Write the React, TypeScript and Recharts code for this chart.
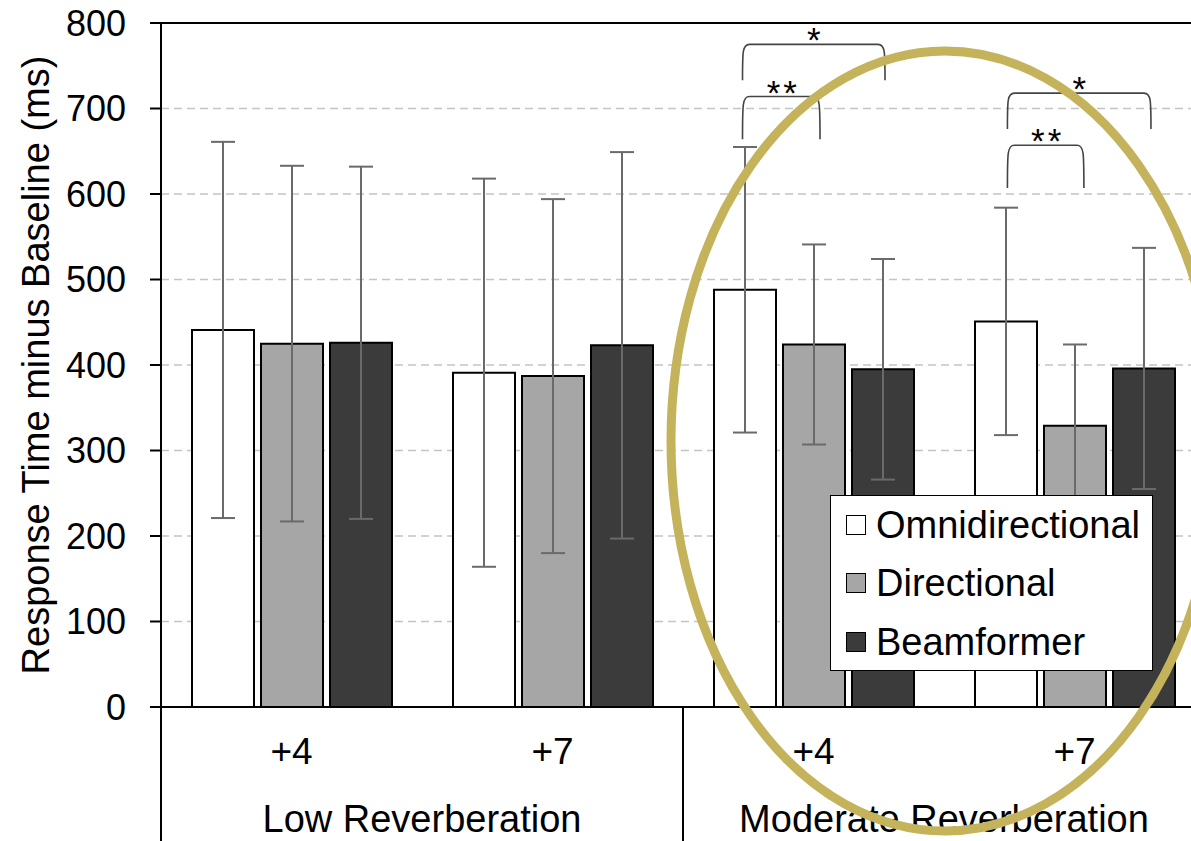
import React from 'react';
import {
  BarChart,
  Bar,
  XAxis,
  YAxis,
  CartesianGrid,
  ErrorBar,
  ReferenceLine,
  Legend,
} from 'recharts';

// ---------- data ----------
const conditions = ['+4', '+7', '+4', '+7'];
const reverberation = ['Low Reverberation', 'Low Reverberation', 'Moderate Reverberation', 'Moderate Reverberation'];
const omnidirectional = [441, 391, 488, 451];
const omnidirectionalErr = [220, 227, 167, 133];
const directional = [425, 387, 424, 329];
const directionalErr = [208, 207, 117, 95];
const beamformer = [426, 423, 395, 396];
const beamformerErr = [206, 226, 129, 141];
const yTicks = [0, 100, 200, 300, 400, 500, 600, 700, 800];
const seriesNames = ['Omnidirectional', 'Directional', 'Beamformer'];
const seriesColors = ['#ffffff', '#a6a6a6', '#3b3b3b'];

// significance brackets (x in category-band units, y in ms)
const bracketLabels = ['*', '**', '*', '**'];
const bracketLeft = [2.228, 2.228, 3.243, 3.243];
const bracketRight = [2.774, 2.525, 3.793, 3.536];
const bracketTop = [775, 714, 718, 657];
const bracketBottom = [733, 664, 676, 607];

const data = conditions.map((c, i) => ({
  id: `${reverberation[i]}|${c}`,
  pos: i + 0.5,
  omni: omnidirectional[i],
  omniErr: omnidirectionalErr[i],
  dir: directional[i],
  dirErr: directionalErr[i],
  beam: beamformer[i],
  beamErr: beamformerErr[i],
}));

// ---------- layout ----------
const FONT = '"Liberation Sans", Arial, Helvetica, sans-serif';
const CHART_W = 1230;
const CHART_H = 880;
const MARGIN = { top: 23, right: 25, left: 0, bottom: 0 };
const Y_AXIS_W = 161;
const X_AXIS_H = 173;
const PLOT_W = CHART_W - MARGIN.left - MARGIN.right - Y_AXIS_W;
const HALF_BAND = PLOT_W / conditions.length / 2;

const XTick = (props: any) => {
  const { x, y, index } = props;
  const i = typeof index === 'number' ? index : props.payload?.index ?? 0;
  return (
    <g>
      <text x={x} y={y + 57} textAnchor="middle" fontSize={37} fontFamily={FONT} fill="#000">
        {conditions[i]}
      </text>
      {i % 2 === 0 && (
        <text x={x + HALF_BAND} y={y + 125} textAnchor="middle" fontSize={38} fontFamily={FONT} fill="#000">
          {reverberation[i]}
        </text>
      )}
      {i === 0 && <line x1={x - HALF_BAND} y1={y} x2={x - HALF_BAND} y2={y + 200} stroke="#000" strokeWidth={2} />}
      {i % 2 === 1 && <line x1={x + HALF_BAND} y1={y} x2={x + HALF_BAND} y2={y + 200} stroke="#000" strokeWidth={2} />}
    </g>
  );
};

const makeBracket = (label: string) => (p: any) => {
  const l = Math.min(p.x1, p.x2);
  const r = Math.max(p.x1, p.x2);
  const t = Math.min(p.y1, p.y2);
  const b = Math.max(p.y1, p.y2);
  const c = 7;
  return (
    <g>
      <path
        d={`M${l},${b} C${l},${t + c} ${l},${t} ${l + c},${t} L${r - c},${t} C${r},${t} ${r},${t + c} ${r},${b}`}
        fill="none"
        stroke="#444"
        strokeWidth={1.6}
      />
      <text
        x={(l + r) / 2 + (label.length > 1 ? 2 : 0)}
        y={t + 8}
        textAnchor="middle"
        fontSize={35}
        letterSpacing={label.length > 1 ? 3 : 0}
        fontFamily={FONT}
        fill="#000"
      >
        {label}
      </text>
    </g>
  );
};

const LegendBox = () => (
  <div
    style={{
      background: '#fff',
      border: '1.5px solid #000',
      width: 323,
      height: 176,
      boxSizing: 'border-box',
      paddingLeft: 15,
      fontFamily: FONT,
      fontSize: 38,
      color: '#000',
    }}
  >
    {seriesNames.map((n, i) => (
      <div key={n} style={{ display: 'flex', alignItems: 'center', height: 58.3, lineHeight: 1, whiteSpace: 'nowrap' }}>
        <span
          style={{
            display: 'inline-block',
            width: 18,
            height: 18,
            border: '1.5px solid #000',
            background: seriesColors[i],
            marginRight: 10,
            flex: 'none',
          }}
        />
        <span>{n}</span>
      </div>
    ))}
  </div>
);

const YLabel = (props: any) => {
  const vb = props.viewBox || { x: 0, y: MARGIN.top, width: Y_AXIS_W, height: CHART_H - MARGIN.top - X_AXIS_H };
  const cx = vb.x + 36;
  const cy = vb.y + vb.height / 2;
  return (
    <text
      x={cx}
      y={cy}
      transform={`rotate(-90 ${cx} ${cy})`}
      textAnchor="middle"
      dominantBaseline="central"
      fontSize={38}
      fontFamily={FONT}
      fill="#000"
    >
      Response Time minus Baseline (ms)
    </text>
  );
};

export default function App() {
  return (
    <div
      style={{
        position: 'absolute',
        left: 0,
        top: 0,
        width: 1191,
        height: 841,
        overflow: 'hidden',
        background: '#fff',
      }}
    >
      <BarChart
        width={CHART_W}
        height={CHART_H}
        data={data}
        margin={MARGIN}
        barSize={62}
        barGap={7}
      >
        <CartesianGrid vertical={false} stroke="#c4c4c4" strokeDasharray="8 5" strokeWidth={1.5} />
        <XAxis
          dataKey="id"
          height={X_AXIS_H}
          tick={<XTick />}
          tickLine={false}
          tickSize={0}
          tickMargin={0}
          interval={0}
          axisLine={{ stroke: '#000', strokeWidth: 2 }}
        />
        <XAxis
          xAxisId="num"
          dataKey="pos"
          type="number"
          domain={[0, conditions.length]}
          allowDataOverflow
          hide
        />
        <YAxis
          width={Y_AXIS_W}
          domain={[0, 800]}
          ticks={yTicks}
          interval={0}
          tickSize={11}
          tickMargin={24}
          tick={{ fill: '#000', fontSize: 36, fontFamily: FONT }}
          tickLine={{ stroke: '#000', strokeWidth: 2 }}
          axisLine={{ stroke: '#000', strokeWidth: 2 }}
          label={{ content: (p: any) => <YLabel {...p} /> }}
        />
        <Bar dataKey="omni" name={seriesNames[0]} fill={seriesColors[0]} stroke="#000" strokeWidth={2} isAnimationActive={false}>
          <ErrorBar dataKey="omniErr" width={12} stroke="#6a6a6a" strokeWidth={2} direction="y" />
        </Bar>
        <Bar dataKey="dir" name={seriesNames[1]} fill={seriesColors[1]} stroke="#000" strokeWidth={2} isAnimationActive={false}>
          <ErrorBar dataKey="dirErr" width={12} stroke="#6a6a6a" strokeWidth={2} direction="y" />
        </Bar>
        <Bar dataKey="beam" name={seriesNames[2]} fill={seriesColors[2]} stroke="#000" strokeWidth={2} isAnimationActive={false}>
          <ErrorBar dataKey="beamErr" width={12} stroke="#6a6a6a" strokeWidth={2} direction="y" />
        </Bar>
        <ReferenceLine y={800} stroke="#000" strokeWidth={2} ifOverflow="extendDomain" />
        {bracketLabels.map((lab, i) => (
          <ReferenceLine
            key={i}
            xAxisId="num"
            segment={[
              { x: bracketLeft[i], y: bracketTop[i] },
              { x: bracketRight[i], y: bracketBottom[i] },
            ]}
            ifOverflow="visible"
            shape={makeBracket(lab)}
          />
        ))}
        <Legend
          layout="vertical"
          align="center"
          verticalAlign="middle"
          content={() => <LegendBox />}
          wrapperStyle={{ position: 'absolute', left: 830, top: 495, width: 'auto', height: 'auto' }}
        />
      </BarChart>
      <svg
        width={1191}
        height={841}
        style={{ position: 'absolute', left: 0, top: 0, pointerEvents: 'none', zIndex: 10 }}
      >
        <ellipse cx={945} cy={441} rx={274} ry={390} fill="none" stroke="#c4b35a" strokeWidth={9} />
      </svg>
    </div>
  );
}
